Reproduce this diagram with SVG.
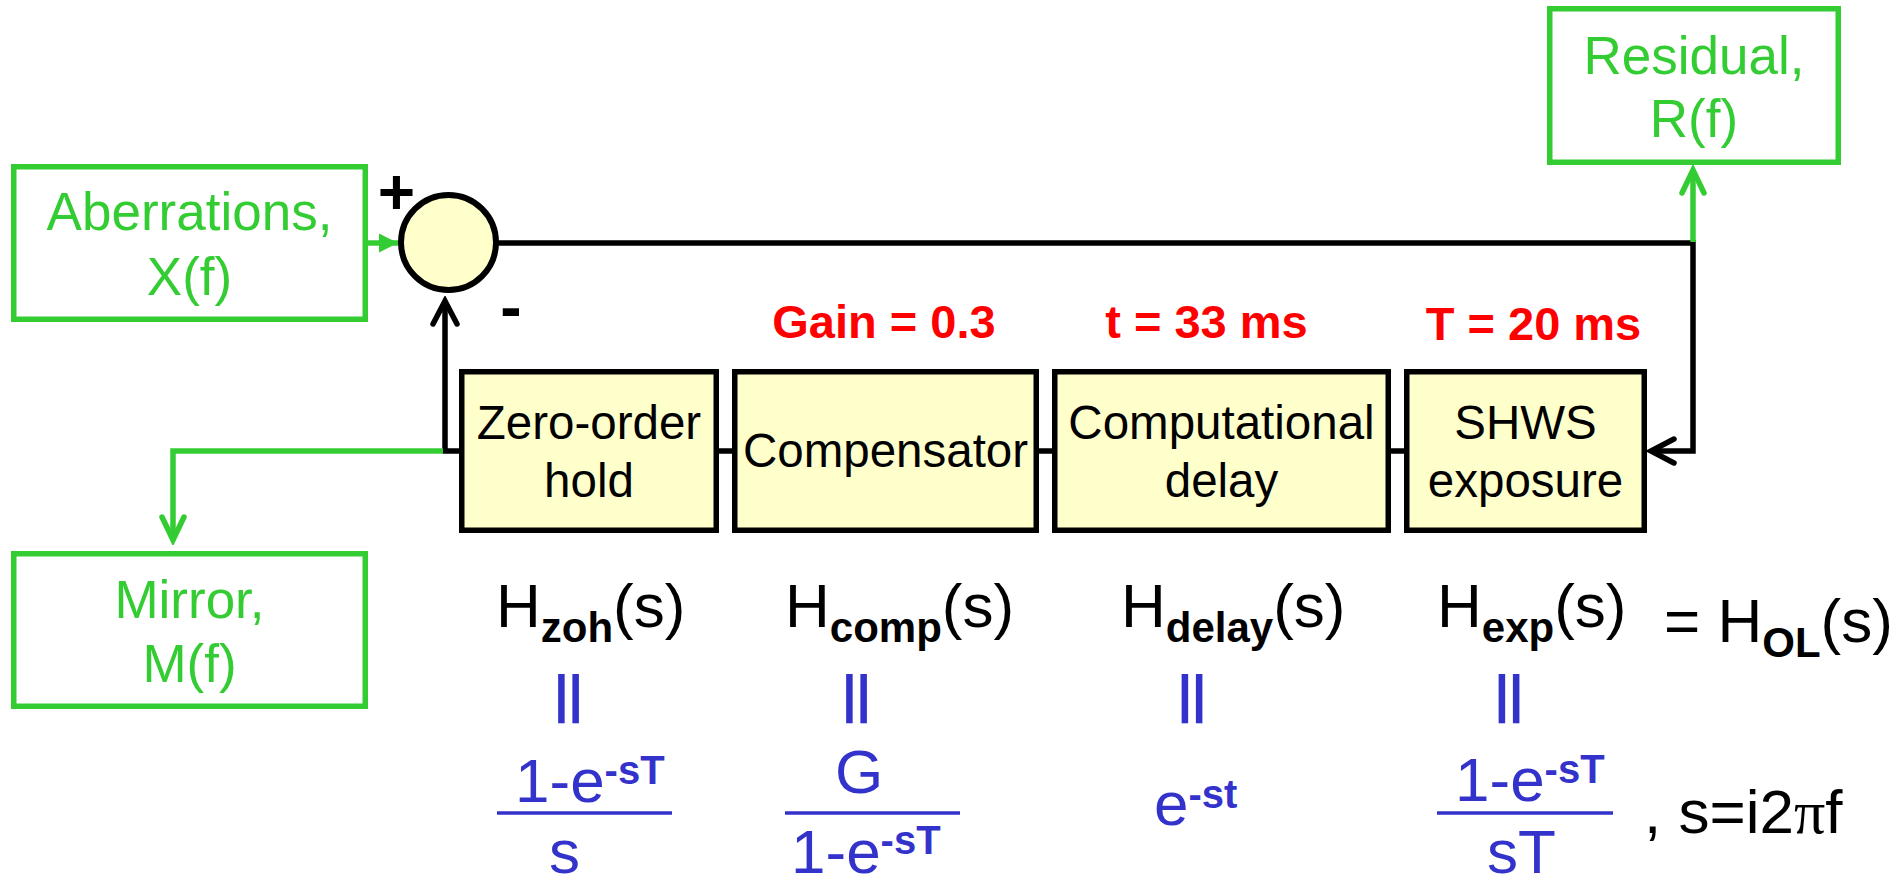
<svg xmlns="http://www.w3.org/2000/svg" width="1903" height="876" viewBox="0 0 1903 876">
<style>
text{font-family:"Liberation Sans",Arial,sans-serif}
.gbox{fill:#fff;stroke:#33CC33;stroke-width:5.5}
.blk{fill:#FFFFCC;stroke:#000;stroke-width:5.5}
.gl{font-size:53px;fill:#33CC33;text-anchor:middle}
.bt{font-size:47.5px;fill:#000;text-anchor:middle}
.red{font-size:47px;font-weight:bold;fill:#FF0000;text-anchor:middle}
.sign{font-size:64px;font-weight:bold;fill:#000;text-anchor:middle}
.h{font-size:62px;fill:#000}
.sub{font-size:42px;font-weight:bold}
.bl{font-size:62px;fill:#3333CC}
.sup{font-size:40px;font-weight:bold}
.eq{font-size:51px;font-weight:bold;fill:#3333CC;text-anchor:middle}
.kl{fill:none;stroke:#000;stroke-width:5.5}
.gln{fill:none;stroke:#33CC33;stroke-width:5.5}
.bar{stroke:#3333CC;stroke-width:3.5}
</style>
<defs>
<marker id="vk" markerUnits="userSpaceOnUse" markerWidth="32" markerHeight="32" viewBox="-27 -16 32 32" refX="0" refY="0" orient="auto">
<path d="M-23,-12 L0,0 L-23,12" fill="none" stroke="#000" stroke-width="5.5" stroke-linecap="round" stroke-linejoin="miter"/>
</marker>
<marker id="vg" markerUnits="userSpaceOnUse" markerWidth="32" markerHeight="32" viewBox="-27 -16 32 32" refX="0" refY="0" orient="auto">
<path d="M-23,-11 L0,0 L-23,11" fill="none" stroke="#33CC33" stroke-width="5.5" stroke-linecap="round"/>
</marker>
<marker id="tg" markerUnits="userSpaceOnUse" markerWidth="24" markerHeight="24" viewBox="-22 -12 24 24" refX="0" refY="0" orient="auto">
<path d="M0,0 L-19,-9.5 L-19,9.5 Z" fill="#33CC33"/>
</marker>
</defs>

<g id="connectors">
<path class="kl" d="M496,243 H1693 V451 H1651" marker-end="url(#vk)"/>
<path class="kl" d="M459,451 H445 V301" marker-end="url(#vk)"/>
<path class="kl" d="M719,451 H732 M1039,451 H1052 M1391,451 H1404"/>
<path class="gln" d="M443,451 H173 V540" marker-end="url(#vg)"/>
<path class="gln" d="M1693,242 V170" marker-end="url(#vg)"/>
<path class="gln" d="M366,243 H398" marker-end="url(#tg)"/>
</g>

<g id="aberrations">
<rect class="gbox" x="13.75" y="166.75" width="351.5" height="152.5"/>
<text class="gl" x="189.5" y="230">Aberrations,</text>
<text class="gl" x="189.5" y="295">X(f)</text>
</g>

<g id="mirror">
<rect class="gbox" x="13.75" y="553.75" width="351.5" height="152.5"/>
<text class="gl" x="189.5" y="618">Mirror,</text>
<text class="gl" x="189.5" y="682">M(f)</text>
</g>

<g id="residual">
<rect class="gbox" x="1549.75" y="8.75" width="288.5" height="153.5"/>
<text class="gl" x="1694" y="74">Residual,</text>
<text class="gl" x="1694" y="137">R(f)</text>
</g>

<g id="sum">
<circle cx="448.5" cy="242.5" r="47.5" fill="#FFFFCC" stroke="#000" stroke-width="6"/>
<text class="sign" x="396.5" y="214">+</text>
<text class="sign" x="511" y="329">-</text>
</g>

<g id="zoh">
<rect class="blk" x="461.75" y="371.75" width="254.5" height="158.5"/>
<text class="bt" x="589" y="439">Zero-order</text>
<text class="bt" x="589" y="497">hold</text>
</g>

<g id="compensator">
<rect class="blk" x="734.75" y="371.75" width="301.5" height="158.5"/>
<text class="bt" x="885.5" y="467">Compensator</text>
<text class="red" x="884" y="338">Gain = 0.3</text>
</g>

<g id="delay">
<rect class="blk" x="1054.75" y="371.75" width="333.5" height="158.5"/>
<text class="bt" x="1221.5" y="439">Computational</text>
<text class="bt" x="1221.5" y="497">delay</text>
<text class="red" x="1206.5" y="338">t = 33 ms</text>
</g>

<g id="shws">
<rect class="blk" x="1406.75" y="371.75" width="237.5" height="158.5"/>
<text class="bt" x="1525.5" y="439">SHWS</text>
<text class="bt" x="1525.5" y="497">exposure</text>
<text class="red" x="1533.5" y="340">T = 20 ms</text>
</g>

<g id="transfer-functions">
<text class="h" x="496" y="627">H<tspan class="sub" dy="15">zoh</tspan><tspan dy="-15">(s)</tspan></text>
<text class="h" x="785" y="627">H<tspan class="sub" dy="15">comp</tspan><tspan dy="-15">(s)</tspan></text>
<text class="h" x="1121" y="627">H<tspan class="sub" dy="15">delay</tspan><tspan dy="-15">(s)</tspan></text>
<text class="h" x="1437" y="627">H<tspan class="sub" dy="15">exp</tspan><tspan dy="-15">(s)</tspan></text>
<text class="h" x="1664" y="642">= H<tspan class="sub" dy="15">OL</tspan><tspan dy="-15">(s)</tspan></text>

<text class="eq" x="568.5" y="712">||</text>
<text class="eq" x="856.5" y="712">||</text>
<text class="eq" x="1192" y="712">||</text>
<text class="eq" x="1509" y="712">||</text>

<text class="bl" x="515" y="802">1-e<tspan class="sup" dy="-18">-sT</tspan></text>
<line class="bar" x1="497" y1="813" x2="672" y2="813"/>
<text class="bl" x="549" y="873">s</text>

<text class="bl" x="835" y="793">G</text>
<line class="bar" x1="785" y1="813" x2="960" y2="813"/>
<text class="bl" x="791" y="873">1-e<tspan class="sup" dy="-19">-sT</tspan></text>

<text class="bl" x="1154" y="825">e<tspan class="sup" dy="-17">-st</tspan></text>

<text class="bl" x="1455" y="801">1-e<tspan class="sup" dy="-18">-sT</tspan></text>
<line class="bar" x1="1437" y1="813" x2="1613" y2="813"/>
<text class="bl" x="1487" y="873">sT</text>

<text class="h" x="1644" y="833">, s=i2<tspan font-family="'Liberation Serif',serif">π</tspan>f</text>
</g>
</svg>
